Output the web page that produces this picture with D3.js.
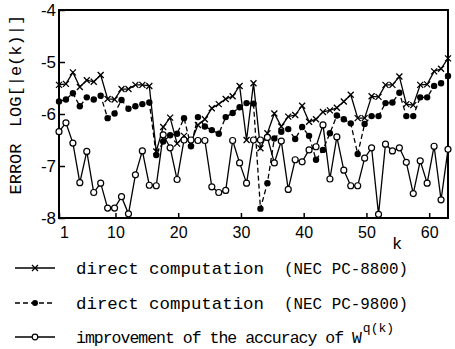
<!DOCTYPE html>
<html>
<head>
<meta charset="utf-8">
<script src="https://cdn.jsdelivr.net/npm/d3@7"></script>
<style>
  html, body { margin: 0; padding: 0; background: #fff; }
  svg { display: block; }
</style>
</head>
<body>
<div id="chart"></div>
<script>
// log10 of the error, one value per plotted point (57 points spread over k = 1..63)
const pc8800 = [
  -5.44, -5.42, -5.20, -5.48, -5.35, -5.38, -5.25, -5.71, -5.72, -5.52,
  -5.52, -5.44, -5.44, -5.46, -6.72, -6.25, -6.07, -6.57, -6.42, -6.55,
  -6.21, -6.10, -5.89, -5.81, -5.71, -5.66, -5.46, -6.50, -5.41, -6.66,
  -6.37, -5.99, -6.24, -6.05, -6.02, -5.84, -6.15, -6.10, -5.96, -5.93,
  -5.88, -5.76, -5.63, -6.08, -6.08, -5.66, -5.67, -5.44, -5.44, -5.28,
  -5.81, -5.83, -5.44, -5.43, -5.18, -5.13, -4.93
];
const pc9800 = [
  -5.76, -5.72, -5.60, -5.85, -5.68, -5.72, -5.65, -6.08, -5.99, -5.73,
  -5.90, -5.85, -5.81, -5.78, -6.79, -6.53, -6.41, -6.38, -6.08, -6.62,
  -6.06, -6.24, -6.31, -6.38, -6.06, -5.98, -5.87, -5.79, -5.80, -7.82,
  -7.33, -6.47, -6.34, -6.29, -6.48, -6.25, -6.42, -6.88, -6.69, -6.37,
  -6.03, -6.10, -6.18, -6.77, -6.19, -6.04, -6.04, -5.79, -5.78, -5.59,
  -6.04, -6.04, -5.68, -5.68, -5.46, -5.41, -5.27
];
const improvement = [
  -6.34, -6.17, -6.56, -7.32, -6.72, -7.51, -7.33, -7.81, -7.81, -7.59,
  -7.92, -7.17, -6.71, -7.37, -7.38, -6.40, -6.65, -7.26, -6.50, -6.50,
  -6.51, -6.51, -7.40, -7.51, -7.47, -6.51, -6.94, -7.33, -6.50, -6.50,
  -6.45, -6.94, -6.52, -7.45, -6.88, -6.92, -6.69, -6.63, -6.21, -7.25,
  -6.44, -7.08, -7.38, -7.38, -6.85, -6.65, -7.93, -6.58, -6.71, -6.65,
  -6.93, -7.53, -6.90, -7.33, -6.62, -7.65, -6.68
];
const xTicks = [1, 10, 20, 30, 40, 50, 60];
const yTicks = [-4, -5, -6, -7, -8];
const legendText = ['direct computation', 'direct computation', 'improvement of the accuracy of W'];
const legendMachine = ['(NEC PC-8800)', '(NEC PC-9800)', ''];

const W = 455, H = 349;
const svg = d3.select('#chart').append('svg')
  .attr('width', W).attr('height', H)
  .attr('viewBox', `0 0 ${W} ${H}`);

const x = d3.scaleLinear().domain([1, 63]).range([59, 448]);
const y = d3.scaleLinear().domain([-8, -4]).range([218, 10]);

// points are evenly spaced over the k range in the original plot
const n = improvement.length;
const kPos = d3.range(n).map(i => 1 + i * 62 / (n - 1));

// frame
svg.append('rect')
  .attr('x', x(1)).attr('y', y(-4))
  .attr('width', x(63) - x(1)).attr('height', y(-8) - y(-4))
  .attr('fill', 'none').attr('stroke', '#000').attr('stroke-width', 2);

const xAxis = svg.append('g')
  .attr('transform', `translate(0,${y(-8)})`)
  .call(d3.axisBottom(x).tickValues(xTicks).tickSize(-5).tickPadding(9).tickFormat(d3.format('d')));
xAxis.select('.domain').remove();
xAxis.selectAll('line').attr('stroke-width', 1.5);
xAxis.selectAll('text')
  .attr('font-family', '"Liberation Sans", Arial, sans-serif')
  .attr('font-size', 16).attr('fill', '#000')
  .attr('dx', d => d === 1 ? 5 : 0);

const yAxis = svg.append('g')
  .attr('transform', `translate(${x(1)},0)`)
  .call(d3.axisLeft(y).tickValues(yTicks).tickSize(-6).tickPadding(3).tickFormat(d => '-' + Math.abs(d)));
yAxis.select('.domain').remove();
yAxis.selectAll('line').attr('stroke-width', 1.5);
yAxis.selectAll('text')
  .attr('font-family', '"Liberation Sans", Arial, sans-serif')
  .attr('font-size', 17).attr('fill', '#000');

const mono = '"Liberation Mono", "Courier New", monospace';

// axis titles
svg.append('text')
  .attr('x', 397).attr('y', 249)
  .attr('font-family', mono).attr('font-size', 17)
  .attr('text-anchor', 'middle').text('k');

svg.append('text')
  .attr('transform', 'translate(21,169) rotate(-90)')
  .attr('font-family', mono).attr('font-size', 17)
  .attr('text-anchor', 'middle').text('ERROR');
svg.append('text')
  .attr('transform', 'translate(21,71) rotate(-90)')
  .attr('font-family', mono).attr('font-size', 17)
  .attr('text-anchor', 'middle').text('LOG[|e(k)|]');

// series
const line = vals => d3.line()
  .x((d, i) => x(kPos[i]))
  .y(d => y(d))(vals);

svg.append('path').attr('d', line(improvement))
  .attr('fill', 'none').attr('stroke', '#000').attr('stroke-width', 1.3);
svg.append('path').attr('d', line(pc8800))
  .attr('fill', 'none').attr('stroke', '#000').attr('stroke-width', 1.3);
svg.append('path').attr('d', line(pc9800))
  .attr('fill', 'none').attr('stroke', '#000').attr('stroke-width', 1.3)
  .attr('stroke-dasharray', '5,3');

const cross = 'M-3,-3L3,3M-3,3L3,-3';

svg.append('g').selectAll('path')
  .data(pc8800).enter().append('path')
  .attr('transform', (d, i) => `translate(${x(kPos[i])},${y(d)})`)
  .attr('d', cross).attr('stroke', '#000').attr('stroke-width', 1.3);

svg.append('g').selectAll('circle')
  .data(pc9800).enter().append('circle')
  .attr('cx', (d, i) => x(kPos[i])).attr('cy', d => y(d))
  .attr('r', 3.2).attr('fill', '#000');

svg.append('g').selectAll('circle')
  .data(improvement).enter().append('circle')
  .attr('cx', (d, i) => x(kPos[i])).attr('cy', d => y(d))
  .attr('r', 3).attr('fill', '#fff').attr('stroke', '#000').attr('stroke-width', 1.2);

// legend
const rowY = [268, 303, 337];
const leg = svg.append('g');
rowY.forEach((ry, i) => {
  const ln = leg.append('line')
    .attr('x1', 15).attr('x2', 55).attr('y1', ry).attr('y2', ry)
    .attr('stroke', '#000').attr('stroke-width', 1.3);
  if (i === 1) ln.attr('stroke-dasharray', '5,3');
  if (i === 0) {
    leg.append('path').attr('transform', `translate(35,${ry})`)
      .attr('d', cross).attr('stroke', '#000').attr('stroke-width', 1.3);
  } else if (i === 1) {
    leg.append('circle').attr('cx', 35).attr('cy', ry).attr('r', 3).attr('fill', '#000');
  } else {
    leg.append('circle').attr('cx', 35).attr('cy', ry).attr('r', 2.8)
      .attr('fill', '#fff').attr('stroke', '#000').attr('stroke-width', 1.2);
  }
  const t = leg.append('text')
    .attr('x', 76).attr('y', ry + 6)
    .attr('font-family', mono);
  if (i < 2) {
    t.attr('font-size', 17)
      .attr('textLength', 188).attr('lengthAdjust', 'spacingAndGlyphs')
      .text(legendText[i]);
    leg.append('text')
      .attr('x', 284).attr('y', ry + 6)
      .attr('font-family', mono).attr('font-size', 17)
      .attr('textLength', 124).attr('lengthAdjust', 'spacingAndGlyphs')
      .text(legendMachine[i]);
  } else {
    t.attr('font-size', 16.5).attr('letter-spacing', -1);
    t.append('tspan').text(legendText[i]);
    t.append('tspan').attr('dx', 2).attr('dy', -11)
      .attr('font-size', 13).attr('letter-spacing', 0).text('q(k)');
  }
});
</script>
</body>
</html>
